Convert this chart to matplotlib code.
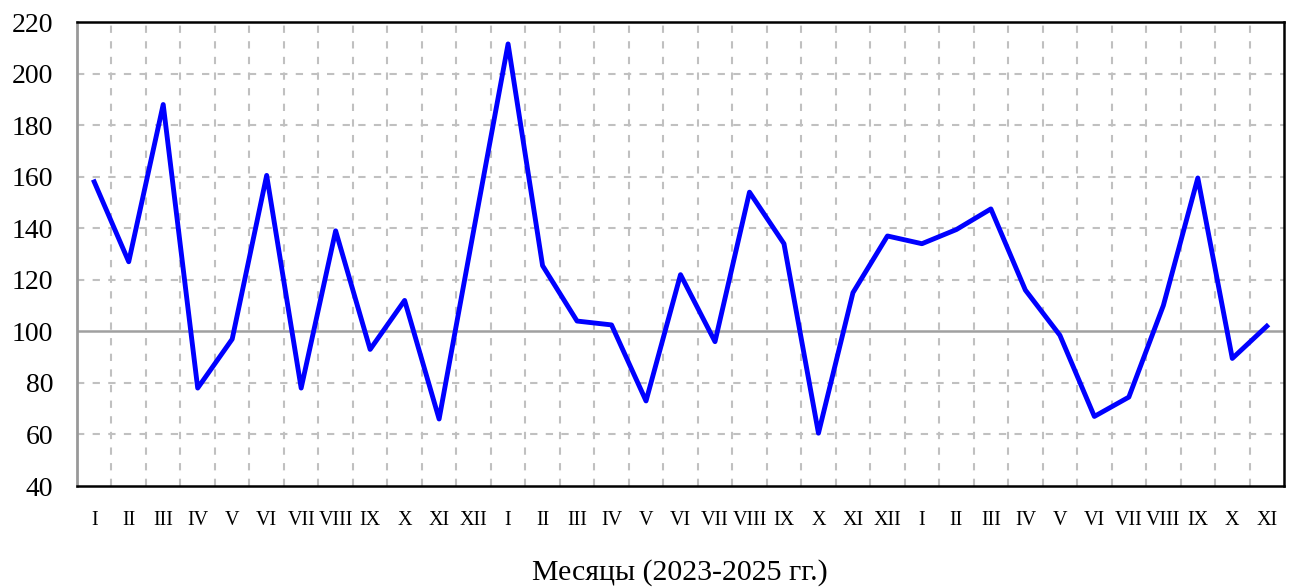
import matplotlib
matplotlib.use("Agg")
import matplotlib.pyplot as plt
import numpy as np

# month labels, Jan 2023 .. Nov 2025
roman = ["I", "II", "III", "IV", "V", "VI", "VII", "VIII", "IX", "X", "XI", "XII"]
months = roman + roman + roman[:11]

values = [158, 127, 188, 78, 97, 160.5, 78, 139, 93, 112, 66, 139,
          211.5, 125.5, 104, 102.5, 73, 122, 96, 154, 134, 60.5, 115, 137,
          134, 139.5, 147.5, 116, 98.5, 67, 74.5, 110, 159.5, 89.5, 102]

yticks = [40, 60, 80, 100, 120, 140, 160, 180, 200, 220]

plt.rcParams['font.family'] = ['Liberation Serif', 'DejaVu Serif']

fig = plt.figure(figsize=(12.94, 5.87), dpi=100)
ax = fig.add_axes([0.0595, 0.172, 0.9328, 0.7905])

x = np.arange(len(values))
grid_col = "#c0c0c0"
grid_ls = (0, (3.5, 4.0))

# horizontal grid
for v in yticks[1:-1]:
    if v == 100:
        ax.axhline(v, color="#a0a0a0", lw=1.8, zorder=1)
    else:
        ax.axhline(v, color=grid_col, lw=1.5, ls=grid_ls, zorder=1)
# vertical grid at category boundaries
for b in x[:-1] + 0.5:
    ax.axvline(b, color=grid_col, lw=1.5, ls=grid_ls, zorder=1)

ax.plot(x, values, color="#0000ff", lw=3.5, zorder=3)

ax.set_xlim(-0.5, len(values) - 0.5)
ax.set_ylim(40, 220)
ax.set_yticks(yticks)
ax.set_xticks(x)
ax.set_xticklabels(months)
ax.tick_params(axis='y', length=0, pad=17, labelsize=20)
ax.tick_params(axis='x', length=0, pad=18, labelsize=14.5)

for s in ["top", "right", "bottom"]:
    ax.spines[s].set_color("black")
    ax.spines[s].set_linewidth(1.8)
ax.spines["left"].set_color("#999999")
ax.spines["left"].set_linewidth(2.0)

fig.text(0.5255, 0.012, "Месяцы (2023-2025 гг.)", ha="center", va="baseline", fontsize=21.5)

fig.savefig("out.png", dpi=100)
